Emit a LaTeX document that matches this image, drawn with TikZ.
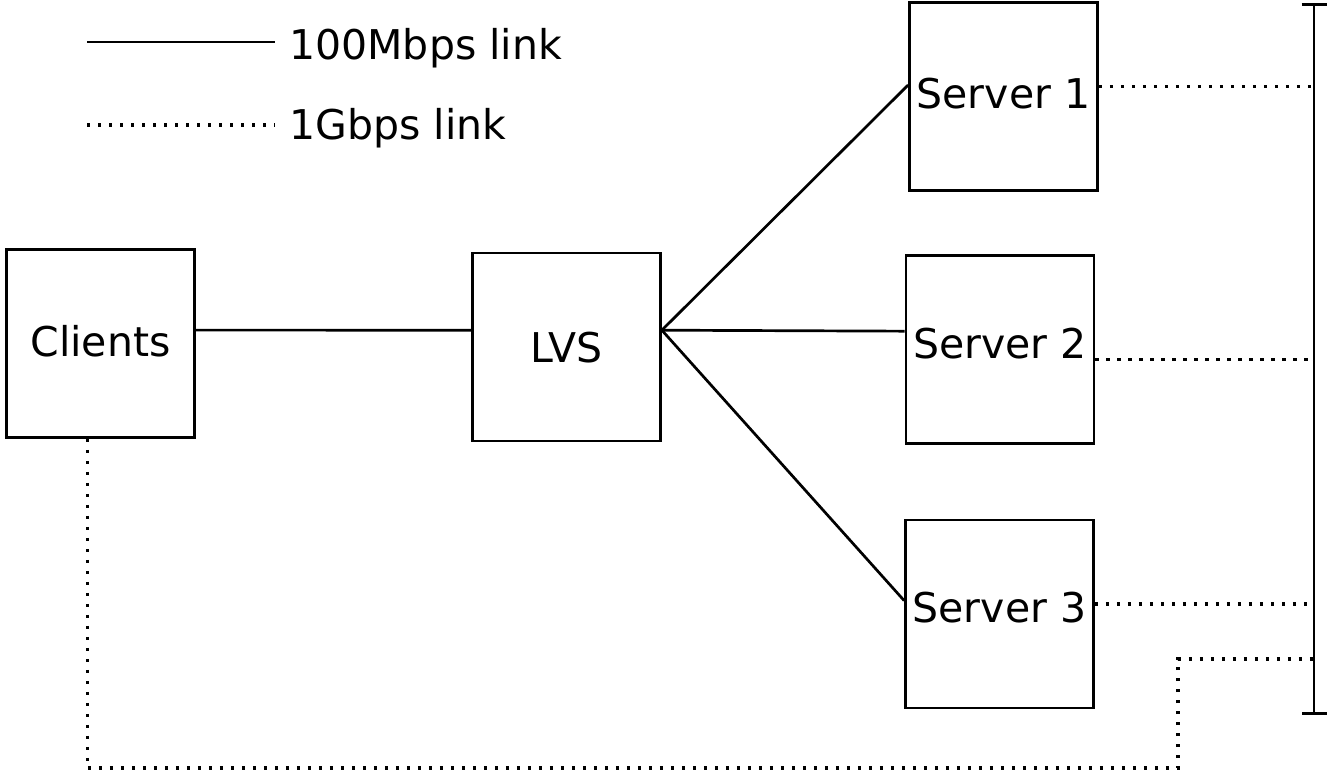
\documentclass[tikz,border=0pt]{standalone}
\usepackage{fontspec}
\setmainfont{DejaVu Sans}
\usepackage{tikz}
\usetikzlibrary{arrows.meta}

\begin{document}
\begin{tikzpicture}[x=1pt, y=-1pt, line width=2.7pt,
  box/.style={draw, rectangle, minimum size=188pt, inner sep=0pt, text depth=6pt, font=\fontsize{41}{49}\selectfont},
  legendtext/.style={anchor=base west, inner sep=0pt, font=\fontsize{41}{49}\selectfont},
  fast/.style={color=black},
  gbit/.style={color=black, line width=3.2pt, dash pattern=on 3.2pt off 7.8pt}]
\useasboundingbox (0, 0) rectangle (1327, 772);

\coordinate (fasta) at (87, 42);
\coordinate (fastb) at (275, 42);
\draw[fast] (fasta) -- (fastb);
\node[legendtext] (fastlabel) at (288, 59) {100Mbps link};

\coordinate (gbita) at (87, 125);
\coordinate (gbitb) at (275, 125);
\draw[gbit] (gbita) -- (gbitb);
\node[legendtext] (gbitlabel) at (288, 139) {1Gbps link};

\node[box] (clients) at (100.5, 343.5) {Clients};
\node[box, text depth=0pt] (lvs) at (566.5, 347) {LVS};
\node[box] (server1) at (1003.5, 96.7) {Server 1};
\node[box, text depth=12pt] (server2) at (1000, 349.7) {Server 2};
\node[box, text depth=13pt] (server3) at (999.5, 614) {Server 3};

\coordinate (bustop) at (1314, 3);
\coordinate (busbot) at (1314, 715);
\draw[{Bar[width=25pt]}-{Bar[width=25pt]}] (bustop) -- (busbot);

\draw[fast] (clients.8) -- (lvs.170);
\draw[fast] (lvs.10) -- (server1.173);
\draw[fast] (lvs.10) -- (server2.169);
\draw[fast] (lvs.10) -- (server3.172);

\draw[gbit] (server1.6) -- (server1.6 -| bustop);
\draw[gbit] (server2.-6) -- (server2.-6 -| bustop);
\draw[gbit] (server3.6) -- (server3.6 -| bustop);

\coordinate (low) at (1178, 768);
\coordinate (bend) at (1178, 659);
\draw[gbit] (clients.262) |- (low) -- (bend) -- (bend -| bustop);
\end{tikzpicture}
\end{document}
